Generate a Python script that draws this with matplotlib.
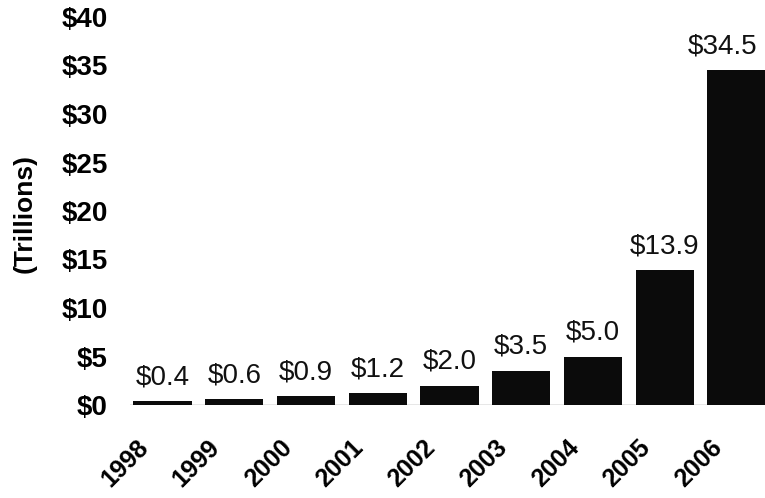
import matplotlib
matplotlib.use("Agg")
import matplotlib.pyplot as plt
import matplotlib.transforms as mtransforms

years = ["1998", "1999", "2000", "2001", "2002", "2003", "2004", "2005", "2006"]
values = [0.4, 0.6, 0.9, 1.2, 2.0, 3.5, 5.0, 13.9, 34.5]
yticks = [0, 5, 10, 15, 20, 25, 30, 35, 40]

plt.rcParams['font.family'] = ['Liberation Sans', 'DejaVu Sans']

fig = plt.figure(figsize=(7.65, 4.98), dpi=100)
W, H = 765, 498
ax = fig.add_axes([130 / W, (H - 405) / H, (765 - 130) / W, (405 - 17) / H])

x = list(range(len(years)))
bars = ax.bar(x, values, width=0.81, color='#0b0b0b', zorder=2)
ax.axhline(0, color='#888888', lw=1.0, zorder=1)

for xi, v in zip(x, values):
    dx = -10 if xi == len(x) - 1 else 0
    ax.annotate(f"${v:.1f}", (xi, v), xytext=(dx, 8), textcoords='offset points',
                ha='center', va='bottom', fontsize=20, color='#111111')

ax.set_xlim(-0.453, 8.397)
ax.set_ylim(0, 40)
ax.set_yticks(yticks)
ax.set_yticklabels([f"${t}" for t in yticks], fontsize=20, fontweight='bold')
ax.set_xticks(x)
ax.set_xticklabels(years, rotation=45, ha='right', va='center', rotation_mode='anchor',
                   fontsize=18, fontweight='bold')
ax.tick_params(axis='y', length=0, pad=16)
ax.tick_params(axis='x', length=0, pad=0)
offset = mtransforms.ScaledTranslation(-0.18, -0.39, fig.dpi_scale_trans)
for lbl in ax.get_xticklabels():
    lbl.set_transform(lbl.get_transform() + offset)
for s in ax.spines.values():
    s.set_visible(False)
ax.set_ylabel("(Trillions)", fontsize=19, fontweight='bold')
ax.yaxis.set_label_coords(-0.1465, 0.494)

fig.savefig("out.png", dpi=100)
